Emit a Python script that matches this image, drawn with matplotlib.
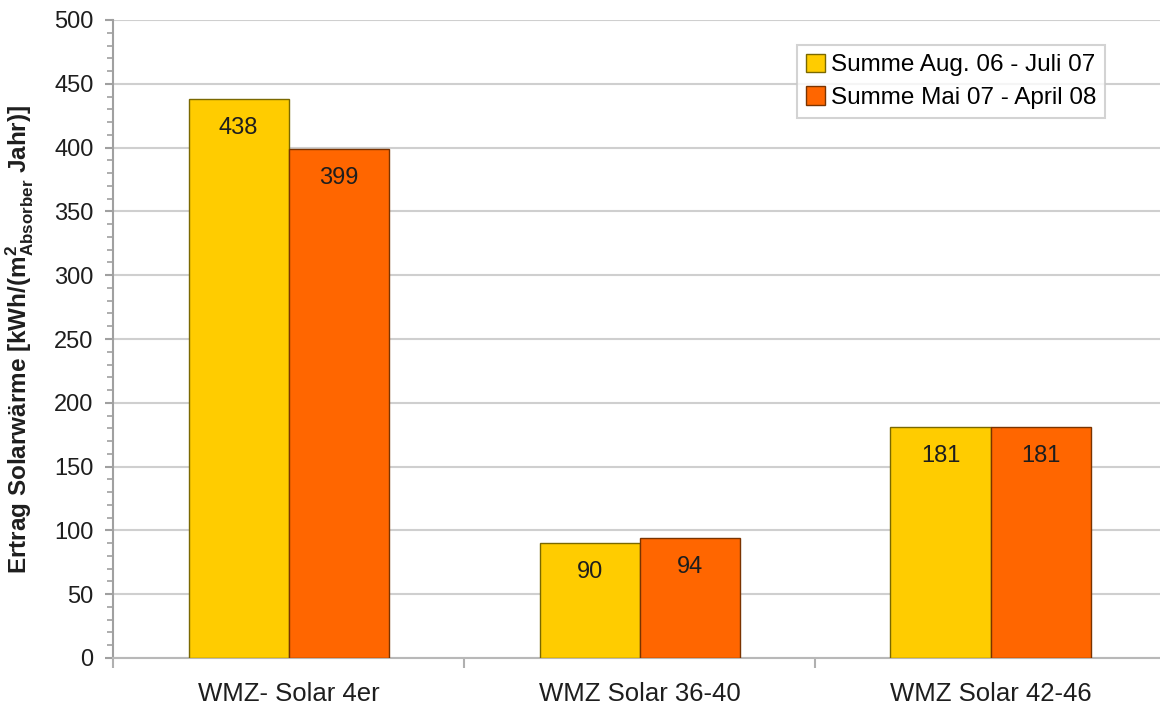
import matplotlib
matplotlib.use("Agg")
import matplotlib.pyplot as plt
import numpy as np

plt.rcParams['font.family'] = ['Liberation Sans', 'DejaVu Sans']
plt.rcParams['mathtext.fontset'] = 'custom'
plt.rcParams['mathtext.rm'] = 'Liberation Sans'
plt.rcParams['mathtext.bf'] = 'Liberation Sans:bold'

categories = ["WMZ- Solar 4er", "WMZ Solar 36-40", "WMZ Solar 42-46"]
series_names = ["Summe Aug. 06 - Juli 07", "Summe Mai 07 - April 08"]
values_aug06_jul07 = [438, 90, 181]
values_mai07_apr08 = [399, 94, 181]
y_ticks = [0, 50, 100, 150, 200, 250, 300, 350, 400, 450, 500]

colors = ["#FFCC00", "#FF6600"]
edges = ["#7a6800", "#7a3300"]
text_color = '#1e1e1e'

fig = plt.figure(figsize=(11.6, 7.04), dpi=100)
ax = fig.add_axes([113 / 1160, 46 / 704, 1053 / 1160, 638 / 704])

x = np.arange(len(categories)) + 0.5
w = 100 / 351
for i, (vals, name) in enumerate(zip([values_aug06_jul07, values_mai07_apr08], series_names)):
    xs = x + (i - 0.5) * w
    ax.bar(xs, vals, width=w, color=colors[i], edgecolor=edges[i],
           linewidth=1.0, label=name, zorder=3)
    for xi, v in zip(xs, vals):
        ax.annotate(str(v), (xi, v), xytext=(0, -21), textcoords='offset points',
                    ha='center', va='center', fontsize=17, color=text_color, zorder=4)

ax.set_xlim(0, 3)
ax.set_ylim(0, 500)
ax.set_yticks(y_ticks)
ax.set_yticks(np.arange(0, 501, 10), minor=True)
ax.set_xticks([0, 1, 2, 3])
ax.set_xticklabels([])
ax.set_xticks(x, minor=True)
ax.set_xticklabels(categories, minor=True)
ax.tick_params(axis='x', which='minor', length=0, pad=17, labelsize=18.5, labelcolor=text_color)
ax.tick_params(axis='x', which='major', length=7, color='#b0b0b0', width=1.5)
ax.tick_params(axis='y', which='major', length=6, color='#a0a0a0', width=1.5,
               labelsize=17, labelcolor=text_color, pad=8)
ax.tick_params(axis='y', which='minor', length=4, color='#a0a0a0', width=1.2)

ax.grid(axis='y', which='major', color='#cfcfcf', linewidth=1.5, zorder=0)
for s in ['top', 'right']:
    ax.spines[s].set_visible(False)
ax.spines['left'].set_color('#a0a0a0')
ax.spines['left'].set_linewidth(1.5)
ax.spines['bottom'].set_color('#b8b8b8')
ax.spines['bottom'].set_linewidth(1.5)

ax.set_ylabel(r'Ertrag Solarwärme [kWh/(m$^\mathbf{2}_\mathbf{Absorber}$ Jahr)]',
              fontsize=17.5, fontweight='bold', color=text_color)
ax.yaxis.set_label_coords((36 - 113) / 1053, 0.5)

leg = ax.legend(loc='upper left', bbox_to_anchor=((797 - 113) / 1053, (658 - 45) / 638),
                fontsize=17.5, frameon=True, fancybox=False, edgecolor='#c8c8c8',
                handlelength=0.8, handleheight=0.8, handletextpad=0.25,
                borderpad=0.35, labelspacing=0.42, borderaxespad=0)
leg.get_frame().set_linewidth(1.5)

fig.savefig("out.png", dpi=100)
